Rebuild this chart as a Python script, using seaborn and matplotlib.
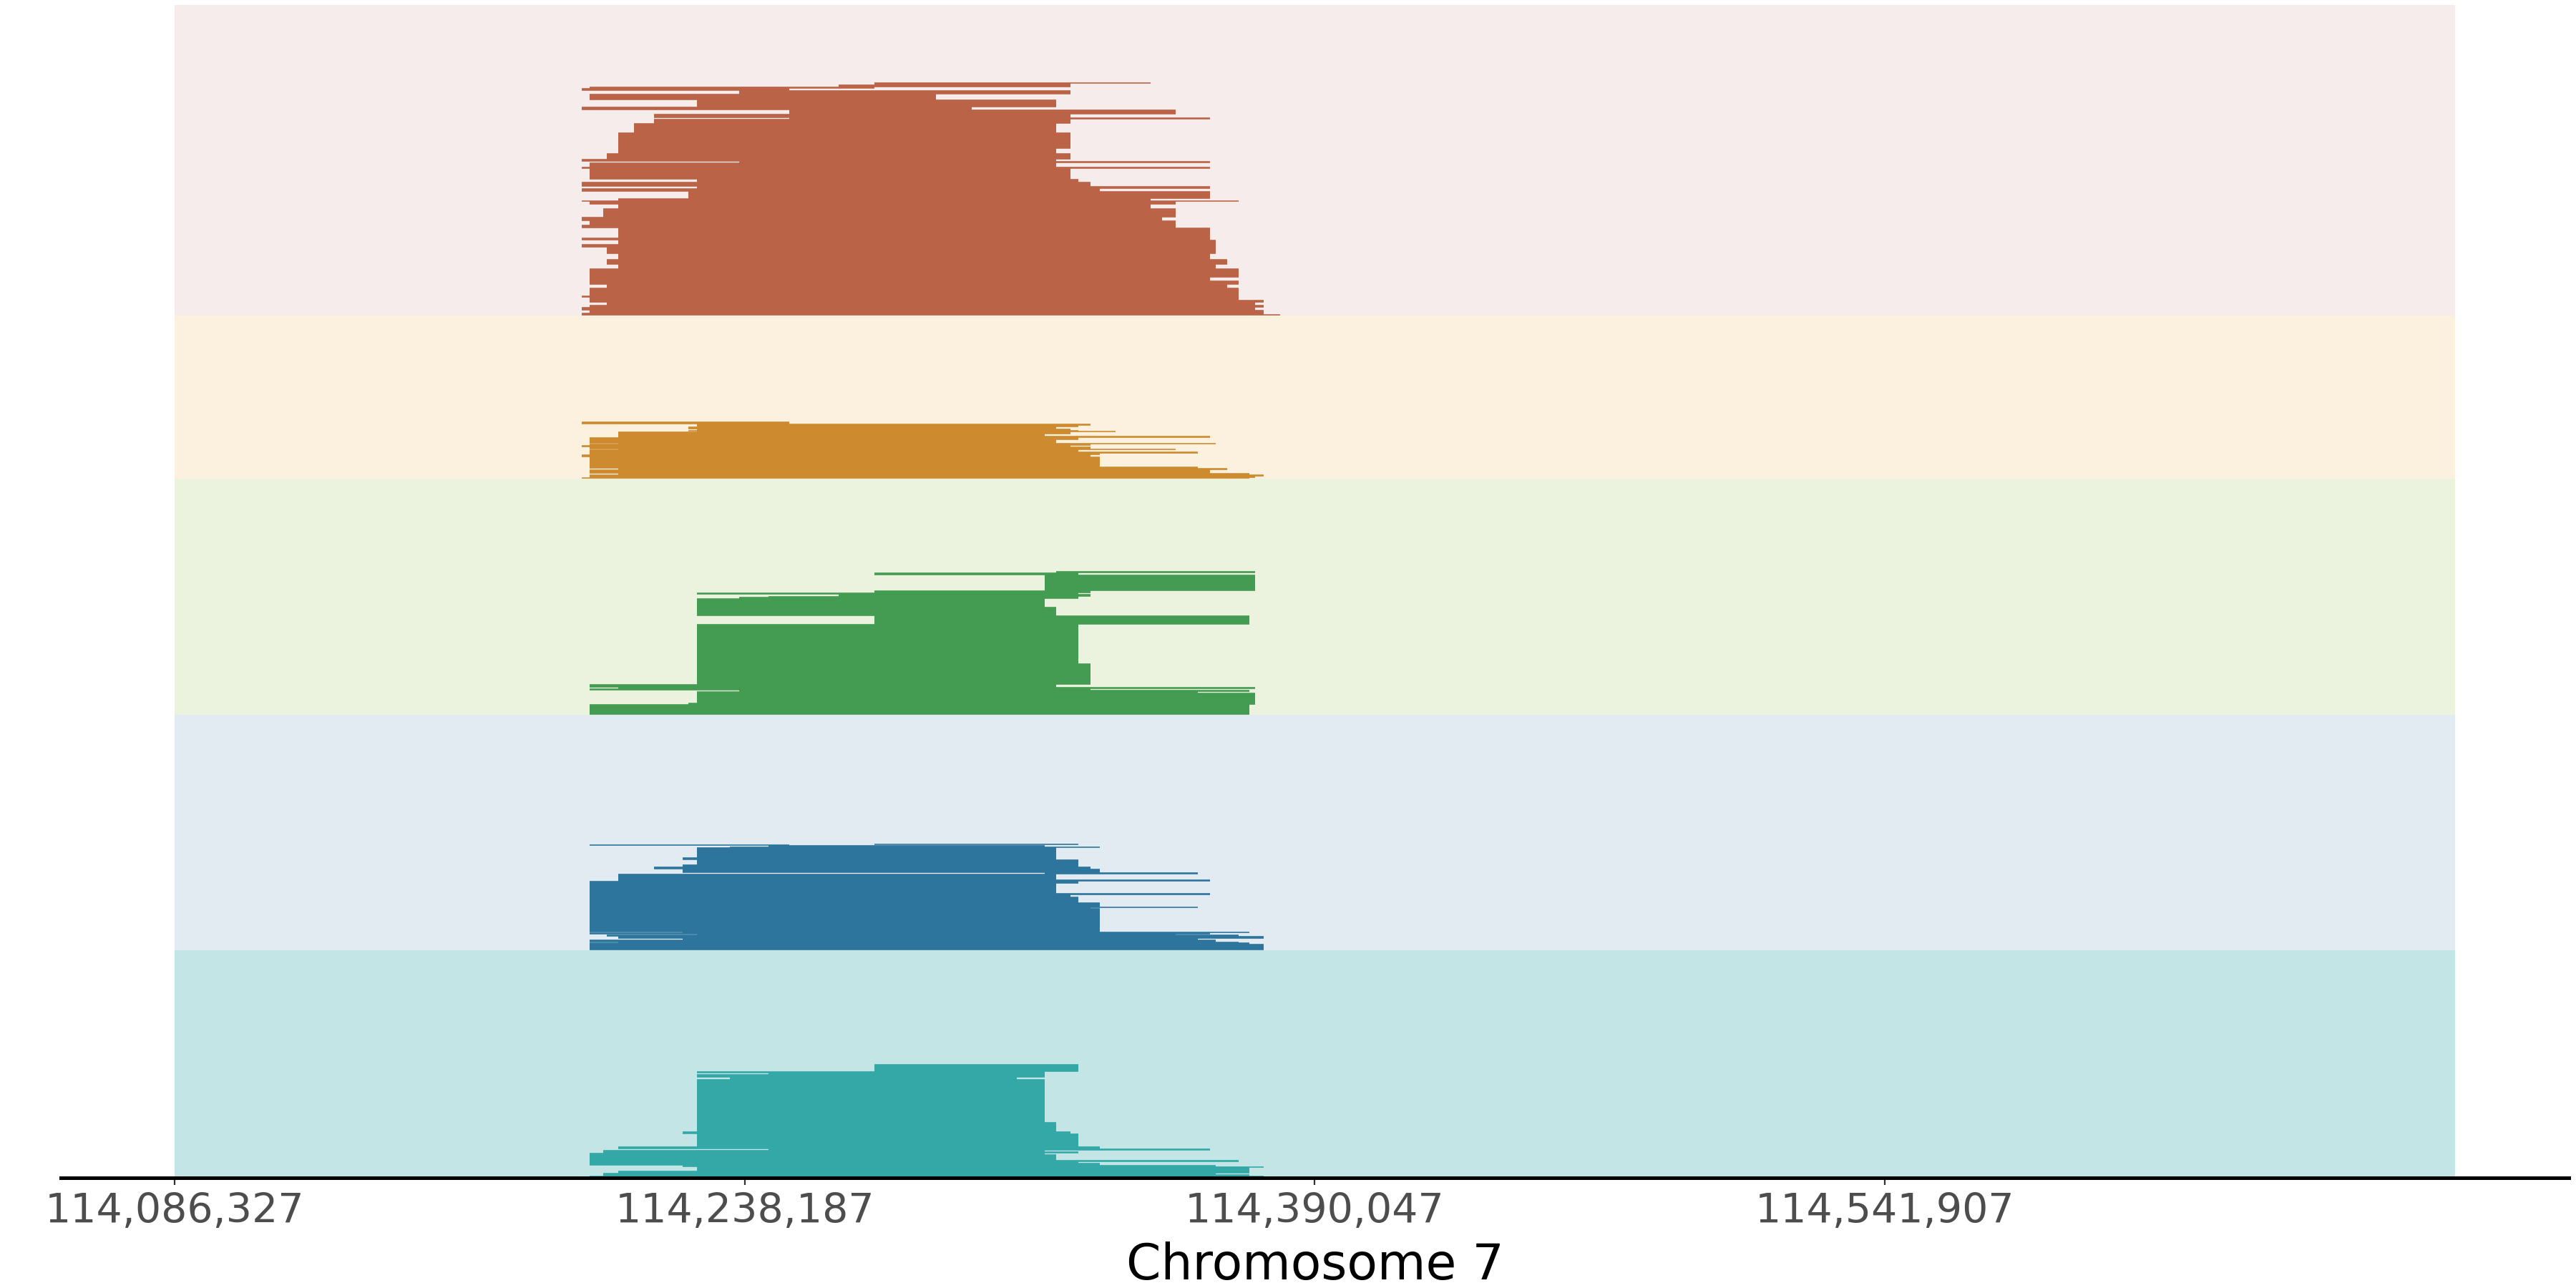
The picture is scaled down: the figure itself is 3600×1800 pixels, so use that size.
import numpy as np
import pandas as pd
import seaborn as sns
import matplotlib.pyplot as plt

# genomic window shown (bp)
region_start = 114086327
region_end = 114693767
tick_pos = [114086327, 114238187, 114390047, 114541907]

# groups top -> bottom
groups = ['g1', 'g2', 'g3', 'g4', 'g5']
band_rows = [434, 228, 330, 329, 318]
read_colors = ['#b85d40', '#cc8628', '#3d984c', '#257099', '#2ea5a5']
band_colors = ['#f7ecec', '#fcf0de', '#ebf2de', '#e2eaf2', '#c4e5e6']

# read blocks, listed bottom -> top: start, end, number of stacked reads
g1_start = [114194700, 114194700, 114196900, 114194700, 114196900, 114201500, 114196900, 114196900, 114194700, 114196900,
            114201500, 114196900, 114196900, 114196900, 114204400, 114201500, 114204400, 114201500, 114194700, 114204400,
            114194700, 114204400, 114194700, 114196900, 114194700, 114200400, 114204400, 114196900, 114194700, 114204400,
            114223200, 114194700, 114225400, 114194700, 114225400, 114196900, 114194700, 114196900, 114236600, 114194700,
            114201500, 114204400, 114204400, 114208700, 114214000, 114250100, 114214000, 114250100, 114194700, 114225400,
            114196900, 114236600, 114194700, 114196900, 114263100, 114272700, 114272700]
g1_end = [114380900, 114376400, 114376400, 114374200, 114376400, 114374200, 114376400, 114369700, 114369700, 114369700,
          114366800, 114369700, 114362100, 114369700, 114363600, 114366800, 114362100, 114363600, 114363600, 114363600,
          114362100, 114362100, 114352900, 114352900, 114349300, 114352900, 114346400, 114352900, 114369700, 114346400,
          114362100, 114332800, 114362100, 114330200, 114327100, 114325000, 114362100, 114321200, 114362100, 114321200,
          114325000, 114321200, 114325000, 114321200, 114325000, 114362100, 114325000, 114352900, 114298600, 114321200,
          114289100, 114325000, 114250100, 114272700, 114325000, 114325000, 114346400]
g1_rows = [1, 2, 4, 4, 3, 4, 3, 4, 2, 11, 5, 5, 5, 12, 6, 7, 8, 9, 4, 6,
           3, 14, 4, 6, 5, 12, 6, 4, 1, 3, 10, 4, 3, 6, 4, 15, 2, 6, 2, 3,
           8, 7, 22, 13, 6, 2, 5, 6, 4, 10, 8, 5, 3, 2, 3, 2, 1]

g2_start = [114194700, 114196900, 114196900, 114204400, 114196900, 114204400, 114196900, 114196900, 114194700, 114196900,
            114196900, 114196900, 114204400, 114196900, 114194700, 114196900, 114204400, 114196900, 114196900, 114204400,
            114204400, 114204400, 114225400, 114223200, 114225400, 114223200, 114225400, 114225400, 114194700]
g2_end = [114372600, 114374200, 114376400, 114372600, 114362100, 114366800, 114358900, 114332800, 114330200, 114332800,
          114358900, 114327100, 114352900, 114330200, 114325000, 114330200, 114363600, 114321200, 114327100, 114362100,
          114318100, 114325000, 114337000, 114327100, 114325000, 114321200, 114327100, 114330200, 114250100]
g2_rows = [1, 2, 2, 2, 5, 2, 2, 14, 3, 2, 2, 3, 1, 3, 2, 2, 1, 5, 3, 2, 3, 3, 1, 1, 2, 3, 2, 2, 3]

g3_start = [114196900, 114223200, 114225400, 114225400, 114236600, 114196900, 114204400, 114196900, 114225400, 114225400,
            114272700, 114225400, 114225400, 114236600, 114244600, 114263100, 114225400, 114272700, 114318100, 114272700,
            114321200]
g3_end = [114372600, 114374200, 114374200, 114358900, 114372600, 114330200, 114374200, 114321200, 114330200, 114327100,
          114372600, 114321200, 114318100, 114327100, 114327100, 114330200, 114327100, 114330200, 114374200, 114327100,
          114374200]
g3_rows = [14, 2, 14, 2, 2, 2, 2, 4, 29, 55, 12, 12, 12, 2, 1, 3, 2, 3, 22, 3, 2]

g4_start = [114196900, 114196900, 114204400, 114196900, 114221600, 114204400, 114201500, 114225400, 114196900, 114221600,
            114196900, 114196900, 114196900, 114196900, 114196900, 114196900, 114196900, 114196900, 114196900, 114204400,
            114204400, 114318100, 114221600, 114214000, 114221600, 114225400, 114221600, 114225400, 114234300, 114244600,
            114196900, 114272700]
g4_end = [114376400, 114372600, 114369700, 114363600, 114358900, 114376400, 114369700, 114352900, 114362100, 114372600,
          114332800, 114330200, 114358900, 114332800, 114327100, 114325000, 114362100, 114321200, 114327100, 114362100,
          114321200, 114358900, 114332800, 114330200, 114327100, 114327100, 114321200, 114321200, 114332800, 114318100,
          114250100, 114327100]
g4_rows = [8, 2, 1, 3, 2, 3, 2, 1, 2, 1, 33, 1, 1, 6, 8, 3, 2, 14, 3, 2,
           8, 2, 5, 3, 3, 7, 3, 14, 1, 2, 1, 1]

g5_start = [114196900, 114200400, 114200400, 114204400, 114225400, 114225400, 114221600, 114196900, 114196900, 114196900,
            114196900, 114196900, 114200400, 114200400, 114244600, 114204400, 114225400, 114221600, 114225400, 114225400,
            114234300, 114225400, 114244600, 114225400, 114272700]
g5_end = [114376400, 114372600, 114363600, 114372600, 114372600, 114376400, 114363600, 114332800, 114327100, 114369700,
          114321200, 114318100, 114327100, 114318100, 114362100, 114332800, 114327100, 114325000, 114321200, 114318100,
          114310700, 114318100, 114318100, 114318100, 114327100]
g5_rows = [2, 2, 2, 3, 5, 1, 2, 3, 2, 2, 8, 2, 2, 2, 2, 3, 18, 3, 13, 60, 3, 4, 2, 2, 10]

blocks = [(g1_start, g1_end, g1_rows), (g2_start, g2_end, g2_rows), (g3_start, g3_end, g3_rows),
          (g4_start, g4_end, g4_rows), (g5_start, g5_end, g5_rows)]

# band bottoms (first group is on top)
tops = np.cumsum(band_rows[::-1])[::-1]
bottoms = tops - np.array(band_rows)

recs = []
for gi, (st, en, nr) in enumerate(blocks):
    y = bottoms[gi]
    for s, e, n in zip(st, en, nr):
        for k in range(n):
            # one read per row
            recs.append((groups[gi], s, e, y + k + 0.5))
        y += n
reads = pd.DataFrame(recs, columns=['group', 'start', 'end', 'y'])

sns.set_theme(style='white')
plt.rcParams['font.family'] = ['DejaVu Sans']

fig = plt.figure(figsize=(18, 9), dpi=200)
ax = fig.add_axes([0.0236, 0.0856, 0.9736, 0.9106])

ax.barh(bottoms, region_end - region_start, left=region_start, height=band_rows,
        align='edge', color=band_colors, linewidth=0, zorder=1)

for gi, g in enumerate(groups):
    d = reads[reads['group'] == g]
    ax.hlines(d['y'], d['start'], d['end'], colors=read_colors[gi], lw=0.6, alpha=0.95, zorder=2)

span = region_end - region_start
ax.set_xlim(region_start - 0.05 * span, region_end + 0.05 * span)
ax.set_ylim(0, tops[0])
ax.set_yticks([])
ax.set_xticks(tick_pos)
ax.set_xticklabels(['{:,}'.format(t) for t in tick_pos], fontsize=20.5, color='#4d4d4d')
ax.tick_params(axis='x', direction='out', length=3.6, width=0.8, color='#333333', pad=3.5, bottom=True)
ax.set_xlabel('Chromosome 7', fontsize=25, color='black', labelpad=5)

sns.despine(ax=ax, left=True)
ax.spines['bottom'].set_color('black')
ax.spines['bottom'].set_linewidth(1.8)
ax.spines['bottom'].set_zorder(3)

fig.savefig('out.png', dpi=200)
